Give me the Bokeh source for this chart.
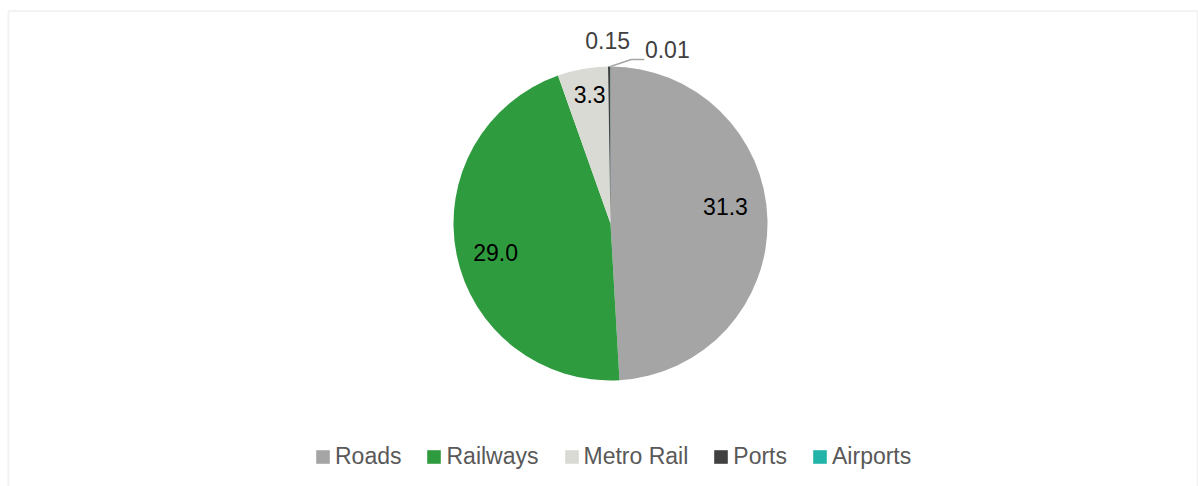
import numpy as np
from bokeh.plotting import figure
from bokeh.models import ColumnDataSource, Legend, LegendItem, BoxAnnotation, Range1d
from bokeh.core.properties import value
from bokeh.embed import file_html
from bokeh.resources import INLINE

# ---- data ----
categories = ["Roads", "Railways", "Metro Rail", "Ports", "Airports"]
values = [31.3, 29.0, 3.3, 0.15, 0.01]
labels = ["31.3", "29.0", "3.3", "0.15", "0.01"]
colors = ["#A5A5A5", "#2F9B3F", "#DADAD5", "#404040", "#22B4A8"]

# ---- layout (pixels) ----
W, H = 1198, 486
CX, CY = 610, 263          # pie centre in plot coords (y up)
R = 157
label_frac = [0.74, 0.755, 0.83, 1.166, 1.166]
label_nudge_deg = [-6.6, -2.8, 1.0, -0.4, 18.1]
label_colors = ["#000000", "#000000", "#000000", "#404040", "#404040"]
FONT = "Liberation Sans"
FS = "23px"

vals = np.array(values, dtype=float)
frac = vals / vals.sum()
cum_end = np.cumsum(frac) * 2 * np.pi
cum_start = cum_end - frac * 2 * np.pi
start_angle = np.pi / 2 - cum_end
end_angle = np.pi / 2 - cum_start
mid_cw = (cum_start + cum_end) / 2  # clockwise from top

src = ColumnDataSource(dict(cat=categories, val=values, start=start_angle,
                            end=end_angle, color=colors))

p = figure(width=W, height=H, output_backend="svg", toolbar_location=None,
           x_range=Range1d(0, W), y_range=Range1d(0, H), min_border=0)
p.axis.visible = False
p.grid.visible = False
p.outline_line_color = None
p.background_fill_color = "white"
p.border_fill_color = "white"

p.add_layout(BoxAnnotation(left=8, right=1197, top=H - 10.5, bottom=-40,
                           fill_color=None, line_color="#D6D6D6", line_width=2))

wr = p.wedge(x=CX, y=CY, radius=R, radius_units="screen",
             start_angle="start", end_angle="end", direction="anticlock",
             fill_color="color", line_color=None, source=src)

# label positions from slice mid-angles
ang = mid_cw + np.radians(label_nudge_deg)
lx = CX + R * np.array(label_frac) * np.sin(ang)
ly = CY + R * np.array(label_frac) * np.cos(ang)
lsrc = ColumnDataSource(dict(x=lx, y=ly, t=labels, c=label_colors))
p.text(x="x", y="y", text="t", text_color="c", source=lsrc,
       text_font=value(FONT), text_font_size=FS,
       text_align="center", text_baseline="middle")

# leader line for the smallest slice (Airports)
i = 4
ex = CX + R * np.sin(mid_cw[i])
ey = CY + R * np.cos(mid_cw[i])
kx, ky = lx[i] - 23, ly[i] - 10
p.line(x=[ex, kx - 13, kx], y=[ey, ky, ky], line_color="#A6A6A6", line_width=1.5)

items = [LegendItem(label=c, renderers=[wr], index=k) for k, c in enumerate(categories)]
legend = Legend(items=items, orientation="horizontal", location=(314, 16),
                glyph_width=17, glyph_height=17, label_standoff=4, spacing=24,
                padding=0, margin=0, border_line_color=None,
                background_fill_alpha=0,
                label_text_font=FONT, label_text_font_size=FS,
                label_text_color="#595959")
p.add_layout(legend)

open("out.html", "w").write(file_html(p, INLINE))
